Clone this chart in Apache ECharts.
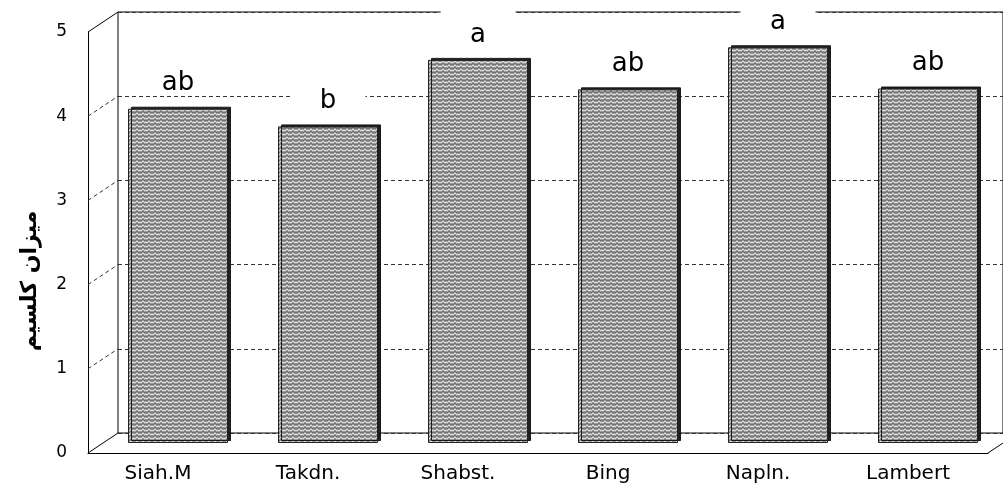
<!DOCTYPE html>
<html>
<head>
<meta charset="utf-8">
<script src="https://cdn.jsdelivr.net/npm/echarts@6/dist/echarts.min.js"></script>
<style>
  html, body { margin: 0; padding: 0; background: #fff; }
  #chart { width: 1003px; height: 489px; }
</style>
</head>
<body>
<div id="chart"></div>
<script>
  const categories = ['Siah.M', 'Takdn.', 'Shabst.', 'Bing', 'Napln.', 'Lambert'];
  const calcium = [3.97, 3.76, 4.55, 4.2, 4.7, 4.21];
  const letters = ['ab', 'b', 'a', 'ab', 'a', 'ab'];
  const yTicks = [0, 1, 2, 3, 4, 5];
  const yName = 'میزان کلسیم';

  // depth of the 3d box (front plane -> back wall)
  const DX = 30, DY = -20;
  const PLOT_W = 900, PLOT_H = 421;

  // grey wavy texture like the excel fill
  function makeTexture() {
    const c = document.createElement('canvas');
    c.width = 6; c.height = 4;
    const ctx = c.getContext('2d');
    ctx.fillStyle = '#999999';
    ctx.fillRect(0, 0, 6, 4);
    for (let x = 0; x < 6; x++) {
      const y = Math.round(1.5 + Math.sin(2 * Math.PI * x / 6));
      ctx.fillStyle = '#dedede';
      ctx.fillRect(x, y, 1, 1);
      ctx.fillStyle = '#747474';
      ctx.fillRect(x, (y + 2) % 4, 1, 1);
    }
    return c;
  }

  const yAxisBase = { type: 'value', min: 0, max: 5, interval: 1 };

  let myChart = echarts.init(document.getElementById('chart'));
  myChart.setOption({
    animation: false,
    grid: [
      // front plane
      { left: 88, top: 32, width: PLOT_W, height: PLOT_H },
      // back wall
      { left: 88 + DX, top: 32 + DY, width: PLOT_W, height: PLOT_H,
        show: true, borderColor: '#000', borderWidth: 1 },
      // middle plane for the bars
      { left: 88 + DX / 2, top: 32 + DY / 2, width: PLOT_W, height: PLOT_H }
    ],
    xAxis: [
      {
        gridIndex: 0, type: 'category', data: categories,
        axisLine: { lineStyle: { color: '#000', width: 1 } },
        axisTick: { show: false },
        axisLabel: {
          color: '#000', fontSize: 20, fontFamily: 'DejaVu Sans',
          margin: 11, padding: [0, 10, 0, 0]
        }
      },
      { gridIndex: 1, type: 'category', data: categories, show: false },
      { gridIndex: 2, type: 'category', data: categories, show: false }
    ],
    yAxis: [
      Object.assign({}, yAxisBase, {
        gridIndex: 0,
        axisLine: { show: true, lineStyle: { color: '#000', width: 1 } },
        axisTick: { show: false },
        splitLine: { show: false },
        axisLabel: { color: '#000', fontSize: 17, fontFamily: 'DejaVu Sans', margin: 21 }
      }),
      Object.assign({}, yAxisBase, {
        gridIndex: 1,
        axisLine: { show: false },
        axisTick: { show: false },
        axisLabel: { show: false },
        splitLine: { lineStyle: { color: '#333', width: 1, type: [4, 3] } }
      }),
      Object.assign({}, yAxisBase, { gridIndex: 2, show: false })
    ],
    graphic: [
      {
        type: 'text', x: 30, y: 281, rotation: Math.PI / 2,
        style: {
          text: yName, fill: '#000', fontSize: 22, fontWeight: 'bold',
          fontFamily: 'DejaVu Sans', align: 'center', verticalAlign: 'middle'
        }
      }
    ],
    series: [
      {
        // side wall lines and floor edges
        type: 'custom',
        xAxisIndex: 0, yAxisIndex: 0,
        silent: true,
        data: yTicks.map(v => [categories[0], v]),
        renderItem(params, api) {
          const v = api.value(1);
          const cs = params.coordSys;
          const y = api.coord([0, v])[1];
          const solid = v === yTicks[0] || v === yTicks[yTicks.length - 1];
          const children = [{
            type: 'line',
            shape: { x1: cs.x, y1: y, x2: cs.x + DX, y2: y + DY },
            style: { stroke: solid ? '#000' : '#333', lineWidth: 1, lineDash: solid ? null : [4, 3] }
          }];
          if (v === yTicks[0]) {
            children.push({
              type: 'line',
              shape: { x1: cs.x + cs.width, y1: y, x2: cs.x + cs.width + DX, y2: y + DY },
              style: { stroke: '#000', lineWidth: 1 }
            });
          }
          return { type: 'group', children };
        }
      },
      {
        name: yName,
        type: 'bar',
        xAxisIndex: 2, yAxisIndex: 2,
        barWidth: 100,
        data: calcium,
        itemStyle: {
          color: { image: makeTexture(), repeat: 'repeat' },
          borderColor: '#222', borderWidth: 1,
          shadowColor: 'rgba(20,20,20,0.95)', shadowBlur: 0,
          shadowOffsetX: 3, shadowOffsetY: -2
        },
        label: {
          show: true, position: 'top', distance: 13,
          formatter: p => letters[p.dataIndex],
          color: '#000', fontSize: 26, fontFamily: 'DejaVu Sans',
          backgroundColor: '#fff', width: 75, align: 'center',
          lineHeight: 24, padding: [14, 0, 0, 0]
        }
      }
    ]
  });
</script>
</body>
</html>
